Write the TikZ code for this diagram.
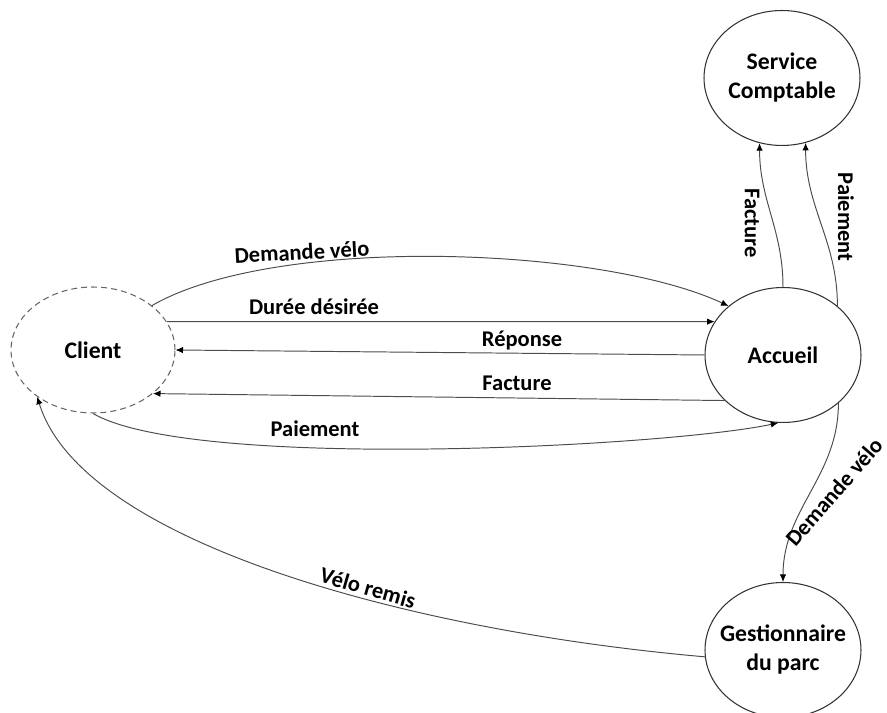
\documentclass[tikz,border=0pt]{standalone}
\usepackage{fontspec}
\setmainfont{Carlito}
\usetikzlibrary{shapes.geometric,arrows.meta}

\begin{document}
\begin{tikzpicture}[x=0.02cm,y=0.02cm,
    entite/.style={ellipse,draw=black!80,line width=0.6pt,minimum width=3.12cm,minimum height=2.7cm,
        inner xsep=-0.3cm,align=center,font=\fontsize{13.5}{16.5}\selectfont\bfseries},
    flux/.style={draw=black!70,line width=0.55pt,-{Latex[length=1.5mm,width=1.3mm,color=black]}},
    etiq/.style={font=\fontsize{12.8}{15}\selectfont\bfseries,inner sep=0pt}]
    \useasboundingbox (0,0) rectangle (887,713);
    % entites
    \node[entite,draw=black!60,dash pattern=on 3.4pt off 2.3pt,minimum width=3.28cm,minimum height=2.52cm] (client) at (93,363) {Client};
    \node[entite] (accueil) at (783,358) {Accueil};
    \node[entite] (compta) at (782,635) {Service\\Comptable};
    \node[entite] (parc) at (783,63) {Gestionnaire\\du parc};
    % flux client / accueil
    \draw[flux] (client.37) to[out=30,in=155,looseness=0.63] (accueil.138);
    \draw[flux] (client.21) -- (accueil.154);
    \draw[flux] (accueil.west) -- (client.east);
    \draw[flux] (accueil.218) -- (client.-36);
    \draw[flux] (client.south) to[out=-30,in=192,looseness=0.43] (accueil.266);
    % flux vers le service comptable et le parc
    \draw[flux] (accueil.north) to[out=90,in=-90] (compta.251);
    \draw[flux] (accueil.42) to[out=90,in=-90] (compta.290);
    \draw[flux] (accueil.-41) to[out=-90,in=90] (parc.north);
    \draw[flux] (parc.185) to[out=175,in=-73,out looseness=1.07,in looseness=0.54] (client.220);
    % etiquettes
    \node[etiq,rotate=3] (tDemande) at (302,461) {Demande vélo};
    \node[etiq] (tDuree) at (314,406) {Durée désirée};
    \node[etiq] (tReponse) at (522,372) {Réponse};
    \node[etiq] (tFacture) at (517,330) {Facture};
    \node[etiq] (tPaiement) at (315,284) {Paiement};
    \node[etiq,rotate=-16] (tVelo) at (368,125) {Vélo remis};
    \node[etiq,rotate=-90] (tFactCompta) at (752,490) {Facture};
    \node[etiq,rotate=-90] (tPaieCompta) at (846,496) {Paiement};
    \node[etiq,rotate=49] (tDemParc) at (834,221) {Demande vélo};
\end{tikzpicture}
\end{document}
